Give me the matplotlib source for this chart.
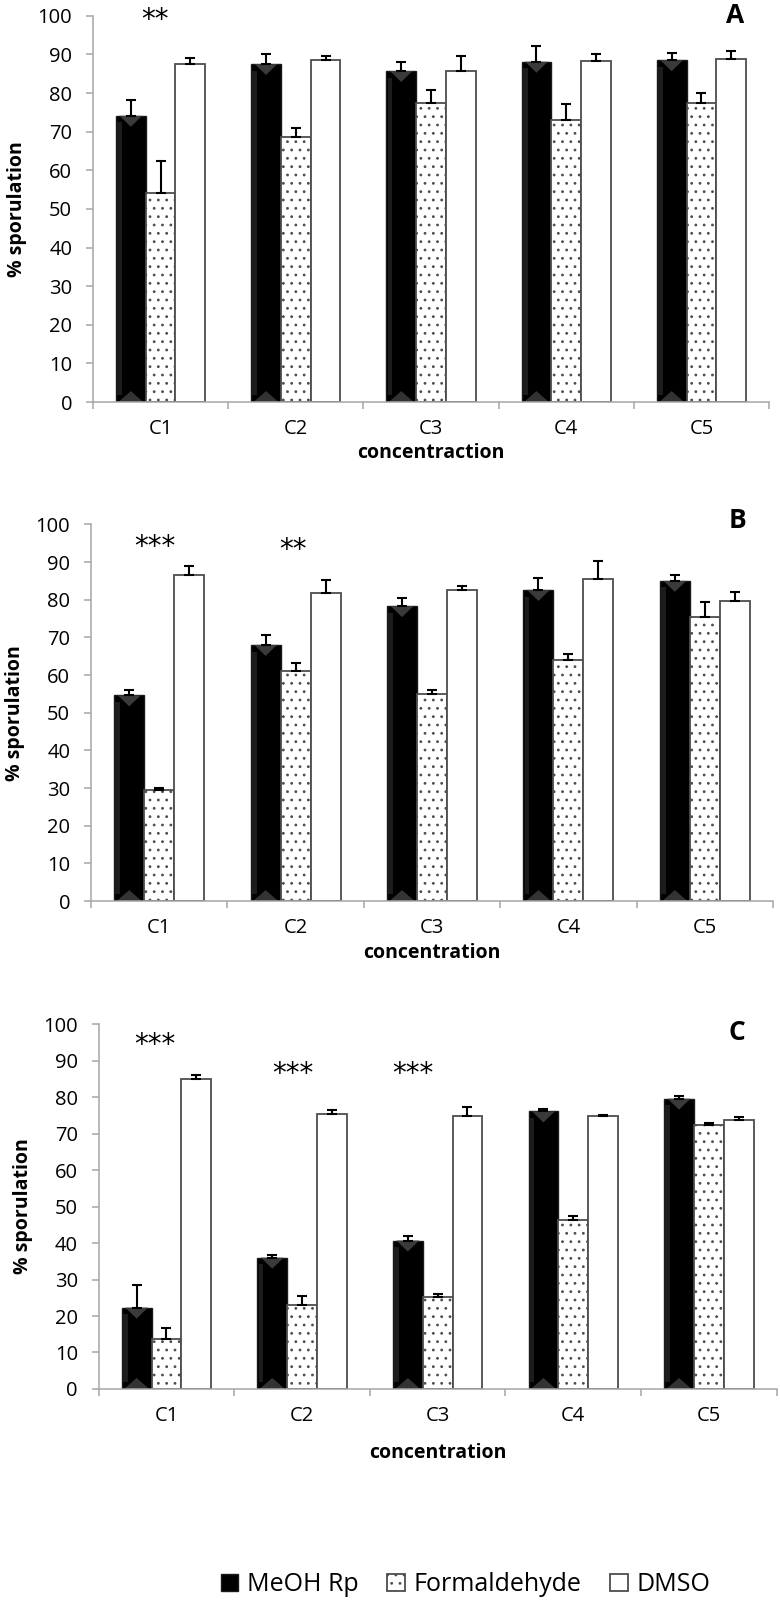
import matplotlib
matplotlib.use("Agg")
import matplotlib.pyplot as plt
import numpy as np

plt.rcParams["font.family"] = ["Open Sans", "DejaVu Sans"]
plt.rcParams["hatch.linewidth"] = 0.8

categories = ["C1", "C2", "C3", "C4", "C5"]
series_names = ["MeOH Rp", "Formaldehyde", "DMSO"]

# panel A
a_meoh = [74.1, 87.5, 85.7, 88.1, 88.5]
a_form = [54.1, 68.6, 77.3, 73.0, 77.3]
a_dmso = [87.4, 88.6, 85.8, 88.4, 88.7]
a_meoh_err = [4.2, 2.5, 2.4, 4.0, 1.9]
a_form_err = [8.2, 2.3, 3.4, 4.1, 2.7]
a_dmso_err = [1.7, 1.1, 3.8, 1.6, 2.2]
a_stars = ["**", "", "", "", ""]

# panel B
b_meoh = [54.6, 68.0, 78.3, 82.6, 85.0]
b_form = [29.5, 61.2, 55.0, 64.1, 75.5]
b_dmso = [86.5, 81.8, 82.5, 85.4, 79.6]
b_meoh_err = [1.3, 2.7, 2.1, 3.1, 1.5]
b_form_err = [0.6, 1.9, 1.1, 1.5, 3.9]
b_dmso_err = [2.4, 3.4, 1.1, 4.9, 2.4]
b_stars = ["***", "**", "", "", ""]

# panel C
c_meoh = [22.3, 36.0, 40.7, 76.1, 79.6]
c_form = [13.8, 23.0, 25.2, 46.4, 72.3]
c_dmso = [85.1, 75.3, 74.9, 74.9, 73.8]
c_meoh_err = [6.3, 0.8, 1.3, 0.7, 0.8]
c_form_err = [2.9, 2.4, 0.8, 1.1, 0.7]
c_dmso_err = [0.9, 1.2, 2.3, 0.3, 0.7]
c_stars = ["***", "***", "***", "", ""]

AXIS_GREY = "#a6a6a6"
EDGE = "#4d4d4d"
BAR_W = 0.22


def draw_panel(ax, meoh, form, dmso, errs, stars, star_y, tag, tag_xy,
               xlabel, xlabel_y):
    x = np.arange(len(categories)) + 0.5
    styles = [
        dict(color="black", edgecolor="#1a1a1a", linewidth=1.0),
        dict(color="white", edgecolor=EDGE, hatch="..", linewidth=1.3),
        dict(color="white", edgecolor=EDGE, linewidth=1.3),
    ]
    bars = []
    for k, (vals, err) in enumerate(zip([meoh, form, dmso], errs)):
        xs = x + (k - 1) * BAR_W
        b = ax.bar(xs, vals, width=BAR_W, label=series_names[k], zorder=2,
                   **styles[k])
        bars.append(b)
        ax.errorbar(xs, vals, yerr=[np.zeros(len(vals)), err], fmt="none",
                     ecolor="black", elinewidth=1.5, capsize=3.3,
                     capthick=1.5, zorder=3)

    # bevel-like shading on the black bars
    px_per_unit = ax.bbox.height / 100.0
    tri = 11 / px_per_unit
    for rect in bars[0]:
        x0, w, h = rect.get_x(), rect.get_width(), rect.get_height()
        xc = x0 + w / 2
        ax.fill([x0 + w * 0.04, x0 + w * 0.2, x0 + w * 0.2, x0 + w * 0.04],
                [tri * 0.6, tri * 0.6, h - tri * 0.6, h - tri * 0.6],
                color="#1c1c1c", lw=0, zorder=2.4)
        ax.fill([x0 + w * 0.12, x0 + w * 0.88, xc], [h, h, h - tri],
                color="#3a3a3a", lw=0, zorder=2.5)
        ax.fill([x0 + w * 0.08, x0 + w * 0.92, xc], [0, 0, tri],
                color="#333333", lw=0, zorder=2.5)

    for i, s in enumerate(stars):
        if s:
            ax.text(x[i] + star_y[i][0], star_y[i][1], s, ha="center",
                    va="center", fontsize=20, family="DejaVu Sans",
                    clip_on=False)

    ax.text(tag_xy[0], tag_xy[1], tag, ha="center", va="center",
            fontsize=19, fontweight="bold", clip_on=False)

    ax.set_xlim(0, len(categories))
    ax.set_ylim(0, 100)
    ax.set_yticks(np.arange(0, 101, 10))
    ax.set_xticks(np.arange(0, len(categories) + 1))
    ax.set_xticklabels([])
    ax.set_xticks(x, minor=True)
    ax.set_xticklabels(categories, minor=True)

    for side in ["top", "right"]:
        ax.spines[side].set_visible(False)
    for side in ["left", "bottom"]:
        ax.spines[side].set_color(AXIS_GREY)
        ax.spines[side].set_linewidth(1.1)

    ax.tick_params(axis="y", direction="out", length=5, width=1.1,
                   color=AXIS_GREY, labelsize=14.5, pad=10)
    ax.tick_params(axis="x", which="major", direction="out", length=5,
                   width=1.1, color=AXIS_GREY)
    ax.tick_params(axis="x", which="minor", length=0, labelsize=14.5, pad=12)

    ax.set_ylabel("% sporulation", fontsize=14, fontweight="bold")
    ax.yaxis.set_label_coords(-0.112, 0.5)
    ax.yaxis.label.set_va("center")
    ax.set_xlabel(xlabel, fontsize=14, fontweight="bold")
    ax.xaxis.set_label_coords(0.5, xlabel_y)
    ax.xaxis.label.set_va("center")
    return bars


fig = plt.figure(figsize=(7.8, 16.07), dpi=100)
ax_a = fig.add_axes([0.1192, 0.7498, 0.8667, 0.2404])
ax_b = fig.add_axes([0.1167, 0.4393, 0.8744, 0.2344])
ax_c = fig.add_axes([0.1265, 0.1357, 0.8692, 0.2269])

draw_panel(ax_a, a_meoh, a_form, a_dmso, [a_meoh_err, a_form_err, a_dmso_err],
           a_stars, [(-0.04, 98.8)] + [(0, 0)] * 4, "A", (4.75, 100),
           "concentraction", -0.132)
draw_panel(ax_b, b_meoh, b_form, b_dmso, [b_meoh_err, b_form_err, b_dmso_err],
           b_stars, [(-0.03, 94.0), (-0.02, 93.2)] + [(0, 0)] * 3, "B",
           (4.74, 101), "concentration", -0.138)
bars = draw_panel(ax_c, c_meoh, c_form, c_dmso,
                  [c_meoh_err, c_form_err, c_dmso_err], c_stars,
                  [(-0.085, 94.2), (-0.07, 86.3), (-0.18, 86.3)] + [(0, 0)] * 2,
                  "C", (4.71, 97.8), "concentration", -0.1755)

fig.legend(bars, series_names, loc="center", bbox_to_anchor=(0.597, 0.0137),
           ncol=3, frameon=False, fontsize=18, handlelength=0.7,
           handleheight=0.7, handletextpad=0.35, columnspacing=1.15)

fig.savefig("out.png", dpi=100)
